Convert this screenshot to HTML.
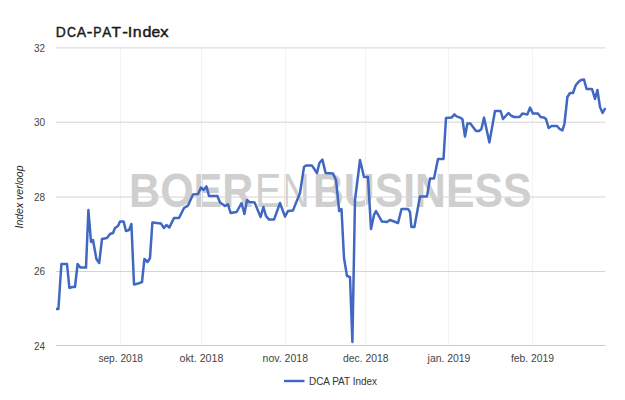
<!DOCTYPE html>
<html><head><meta charset="utf-8"><title>DCA-PAT-Index</title>
<style>
html,body{margin:0;padding:0;background:#fff;}
body{width:625px;height:400px;overflow:hidden;font-family:"Liberation Sans",sans-serif;}
svg{display:block}
text{font-family:"Liberation Sans",sans-serif;}
</style></head><body>
<svg width="625" height="400" viewBox="0 0 625 400">
<rect width="625" height="400" fill="#fff"/>
<!-- watermark -->
<g fill="#cfcfcf" font-size="47.6" font-family="&quot;Liberation Sans&quot;, sans-serif">
<text x="129.1" y="206.7" font-weight="bold" textLength="124.3" lengthAdjust="spacingAndGlyphs">BOER</text>
<text x="255.1" y="206.7" font-weight="normal" textLength="54.6" lengthAdjust="spacingAndGlyphs">EN</text>
<text x="312.9" y="206.7" font-weight="bold" textLength="218.7" lengthAdjust="spacingAndGlyphs">BUSINESS</text>
</g>
<!-- vertical gridlines -->
<g stroke="#f3f3f3" stroke-width="1">
<line x1="120.5" y1="48" x2="120.5" y2="345.5"/>
<line x1="201.5" y1="48" x2="201.5" y2="345.5"/>
<line x1="285.5" y1="48" x2="285.5" y2="345.5"/>
<line x1="365.5" y1="48" x2="365.5" y2="345.5"/>
<line x1="448.5" y1="48" x2="448.5" y2="345.5"/>
<line x1="532.5" y1="48" x2="532.5" y2="345.5"/>
</g>
<!-- horizontal gridlines -->
<g stroke="#d4d4d4" stroke-width="1">
<line x1="56" y1="47.9" x2="605.5" y2="47.9"/>
<line x1="56" y1="122.2" x2="605.5" y2="122.2"/>
<line x1="56" y1="197" x2="605.5" y2="197"/>
<line x1="56" y1="271.5" x2="605.5" y2="271.5"/>
</g>
<line x1="56" y1="345.5" x2="605.5" y2="345.5" stroke="#cbcbcb" stroke-width="1"/>
<!-- title -->
<g font-size="15.2" fill="#1a1a1a" stroke="#1a1a1a" stroke-width="0.45" stroke-linejoin="round"><text transform="translate(55.72,36.6) scale(0.912,1)">D</text><text transform="translate(67.00,36.6) scale(0.820,1)">C</text><text transform="translate(76.75,36.6) scale(0.922,1)">A</text><text transform="translate(86.76,36.6) scale(1.114,1)">-</text><text transform="translate(93.23,36.6) scale(0.818,1)">P</text><text transform="translate(102.16,36.6) scale(0.892,1)">A</text><text transform="translate(111.44,36.6) scale(1.019,1)">T</text><text transform="translate(122.26,36.6) scale(1.114,1)">-</text><text transform="translate(127.76,36.6) scale(1.073,1)">I</text><text transform="translate(132.79,36.6) scale(1.045,1)">n</text><text transform="translate(142.38,36.6) scale(1.060,1)">d</text><text transform="translate(151.52,36.6) scale(1.026,1)">e</text><text transform="translate(160.18,36.6) scale(1.085,1)">x</text></g>
<!-- y labels -->
<g font-size="10" fill="#444" text-anchor="end">
<text x="45" y="51.6">32</text>
<text x="45" y="126">30</text>
<text x="45" y="200.6">28</text>
<text x="45" y="275">26</text>
<text x="45" y="349.6">24</text>
</g>
<!-- x labels -->
<g font-size="10" fill="#444">
<text x="98.4" y="361.5" textLength="44.6" lengthAdjust="spacingAndGlyphs">sep. 2018</text>
<text x="179.6" y="361.5" textLength="43.8" lengthAdjust="spacingAndGlyphs">okt. 2018</text>
<text x="262.6" y="361.5" textLength="45.4" lengthAdjust="spacingAndGlyphs">nov. 2018</text>
<text x="343" y="361.5" textLength="45.4" lengthAdjust="spacingAndGlyphs">dec. 2018</text>
<text x="427.6" y="361.5" textLength="42.8" lengthAdjust="spacingAndGlyphs">jan. 2019</text>
<text x="511" y="361.5" textLength="43" lengthAdjust="spacingAndGlyphs">feb. 2019</text>
</g>
<!-- y title -->
<text transform="translate(23.4,197) rotate(-90)" font-size="10.5" font-style="italic" fill="#222" text-anchor="middle">Index verloop</text>
<!-- series -->
<polyline fill="none" stroke="#4067c1" stroke-width="2.5" stroke-linejoin="round" stroke-linecap="butt" points="56,309 58.4,309 61.4,264 67,264 69.4,288 72,287 75,287 77.6,264 80.4,267.6 86,267.6 88.4,210 91,242 93,240 96.4,259 99.2,263 102,239 107,238 110,234 113,233 115,228 118,226 120,221.6 123.6,221.6 126,231 129,230 131.4,224 134,284.4 138,283.6 142,282 144.4,259 147.6,262 150,258 152.4,222.4 161,223.6 164,228 166.4,225 169.4,227.4 174,218 179,218 184,208 188,205.6 193,194.4 198,194 201,187.6 203.6,190 206.4,186.4 209,196 217.4,196 220,202.4 225,206 228,204.4 230.6,213 236.6,212 241.6,203 244.4,214 247,200 249.4,202 254.6,202.4 260.6,217 263.4,207 266,216 269,219.6 274,219.6 280,203 285,216.6 288,211 293,210.4 300,193 304,167 306,165.6 312,165.6 317,173 319.4,163 322.4,159.6 325.6,173 333,173.6 336,180 339.2,211 341.5,209 344,258 347,276 350,277 352.4,342 355,200 360,160 364,177 368,177 371,229 374,215 376,211 382,221.6 387,222 390,220 398,223 401.5,209 408,209 410,212 411.4,227 414.4,227 420,196.4 427,196.4 430,178.4 434,178.4 438,159 443.5,159 446,118 451.6,117.6 454.4,114.4 456.6,116.4 460,117.6 462.4,119 465,136.6 467.4,123.6 470.4,123.6 476,131 479,131 481.4,129 484,117.6 489.4,142.4 495,111 500.6,111 503,119 508.4,113 511,115.6 514,117 519.6,117 522.4,113.6 527.4,114.4 530,107.6 533,113.6 538,113.6 540.6,117 543.6,117.4 546,119 548.6,128 551.6,126 557,126 559.6,129 562.4,130.4 564.4,124 567.4,97 570,93 573,93 575.6,85.6 578.4,82 581,80 584,79.6 586.6,89 592,89 595,99 597.4,90 600,107 602.6,113 605.4,108"/>
<!-- legend -->
<line x1="284" y1="381" x2="304.5" y2="381" stroke="#4067c1" stroke-width="2.4"/>
<text x="309" y="384.5" font-size="10" fill="#333" textLength="68" lengthAdjust="spacingAndGlyphs">DCA PAT Index</text>
</svg>
</body></html>
